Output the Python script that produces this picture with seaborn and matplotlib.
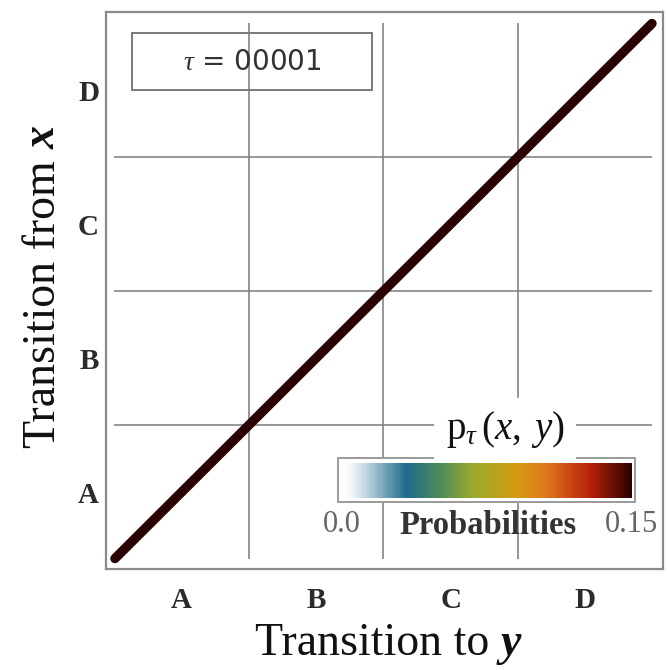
import numpy as np
import pandas as pd
import matplotlib
matplotlib.use("Agg")
import matplotlib.pyplot as plt
from matplotlib.colors import LinearSegmentedColormap
from matplotlib.patches import Rectangle
import seaborn as sns

# ---- data -------------------------------------------------------------
symbols = ["A", "B", "C", "D"]
states_per_symbol = 128
diagonal_probability = 0.15
tau_label = "00001"
prob_limits = [0.0, 0.15]
prob_tick_labels = ["0.0", "0.15"]

n_states = len(symbols) * states_per_symbol
state_index = np.arange(n_states)
# joint transition probabilities p_tau(x, y): at this tiny lag every state maps onto itself
transition = pd.DataFrame(np.diag(np.full(n_states, diagonal_probability)),
                          index=state_index, columns=state_index)

# ---- style ------------------------------------------------------------
sns.set_theme(style="white")
plt.rcParams["font.family"] = ["Liberation Serif", "DejaVu Serif"]
plt.rcParams["mathtext.fontset"] = "custom"
plt.rcParams["mathtext.rm"] = "Liberation Serif"
plt.rcParams["mathtext.it"] = "Liberation Serif:italic"

cmap = LinearSegmentedColormap.from_list(
    "prob",
    [(0.00, "#ffffff"), (0.03, "#f3f6f8"), (0.09, "#b5cfdc"), (0.22, "#1f6b8c"),
     (0.34, "#4e8c58"), (0.45, "#9aaa2c"), (0.60, "#d49b14"), (0.70, "#e07a1e"),
     (0.86, "#b51f0a"), (1.00, "#2a0202")])

W, H = 667, 670
fig = plt.figure(figsize=(W / 100, H / 100), dpi=100)
ax = fig.add_axes([106 / W, 1 - 569 / H, 557 / W, 557 / H])
cax = fig.add_axes([342 / W, 1 - 498 / H, 290 / W, 35 / H])
cax.set_zorder(2)

sns.heatmap(transition, ax=ax, cmap=cmap, vmin=prob_limits[0], vmax=prob_limits[1],
            cbar=True, cbar_ax=cax, cbar_kws={"orientation": "horizontal"},
            xticklabels=False, yticklabels=False, rasterized=True)

# y grows upward: state A at the bottom-left
ax.set_xlim(-8, n_states + 10)
ax.set_ylim(-9.5, n_states + 10.5)

# block separators between symbols
bounds = states_per_symbol * np.arange(1, len(symbols))
ax.vlines(bounds, 0, n_states, color="#7a7a7a", lw=1.1, zorder=2)
ax.hlines(bounds, 0, n_states, color="#7a7a7a", lw=1.1, zorder=2)

# non-zero entries of the matrix (the diagonal), drawn as a thick stroke
diag = np.diag(transition.values)
on = state_index[diag > 0]
sns.lineplot(x=on + 0.5, y=on + 0.5, ax=ax, estimator=None, sort=False,
             color=cmap((diag.max() - prob_limits[0]) / (prob_limits[1] - prob_limits[0])),
             lw=6.8, solid_capstyle="round", zorder=3)

centers = states_per_symbol * (np.arange(len(symbols)) + 0.5)
ax.set_xticks(centers)
ax.set_xticklabels(symbols, fontsize=21, fontweight="bold", color="#2b2b2b")
ax.set_yticks(centers)
ax.set_yticklabels(symbols, fontsize=21, fontweight="bold", color="#2b2b2b", rotation=0)
ax.tick_params(axis="x", length=0, pad=13)
ax.tick_params(axis="y", length=0, pad=5)
ax.set_xlabel("")
ax.set_ylabel("")

for sp in ax.spines.values():
    sp.set_visible(True)
    sp.set_color("#8a8a8a")
    sp.set_linewidth(1.6)

# lag annotation box
ax.add_patch(Rectangle((0.0467, 0.860), 0.431, 0.102, transform=ax.transAxes,
                       facecolor="none", edgecolor="#7a7a7a", lw=1.4, zorder=5))
ax.text(0.262, 0.911, r"$\tau$ = " + tau_label, transform=ax.transAxes,
        ha="center", va="center", fontsize=20, family="DejaVu Sans",
        color="#333333", zorder=6)

# colour bar inset
fig.add_artist(Rectangle((338 / W, 1 - 502 / H), 297 / W, 44 / H,
                         transform=fig.transFigure, facecolor="white",
                         edgecolor="#9a9a9a", lw=1.4, zorder=1))
cbar = ax.collections[0].colorbar
cbar.outline.set_visible(False)
cbar.set_ticks(prob_limits)
cbar.set_ticklabels(prob_tick_labels)
cax.tick_params(length=0, labelsize=22, labelcolor="#666666", pad=9)
fig.text(488 / W, 1 - 525 / H, "Probabilities", fontsize=23.5, fontweight="bold",
         color="#333333", ha="center", va="center")
fig.text(505 / W, 1 - 430 / H, r"$\mathrm{p}_{\tau}\,(x,\;y)$", fontsize=28,
         ha="center", va="center", color="#111111", zorder=3,
         bbox=dict(boxstyle="square,pad=0.3", facecolor="white", edgecolor="none"))

# axis titles: upright words followed by a bold-italic variable name
renderer = fig.canvas.get_renderer()
lab_size = 33


def axis_title(words, var, center, base, vertical):
    rot = 90 if vertical else 0
    kw = dict(fontsize=lab_size, color="#111111", rotation=rot,
              rotation_mode="anchor", ha="left", va="baseline")
    t1 = fig.text(0, 0, words, **kw)
    t2 = fig.text(0, 0, var, fontstyle="italic", fontweight="bold", **kw)
    e1 = t1.get_window_extent(renderer)
    e2 = t2.get_window_extent(renderer)
    if vertical:
        total = e1.height + e2.height
        y0 = (H - center) - total / 2
        t1.set_position((base / W, y0 / H))
        t2.set_position((base / W, (y0 + e1.height) / H))
    else:
        total = e1.width + e2.width
        x0 = center - total / 2
        t1.set_position((x0 / W, 1 - base / H))
        t2.set_position(((x0 + e1.width) / W, 1 - base / H))


axis_title("Transition to ", "y", 388, 655, vertical=False)
axis_title("Transition from ", "x", 287, 55, vertical=True)

fig.savefig("out.png", dpi=100)
